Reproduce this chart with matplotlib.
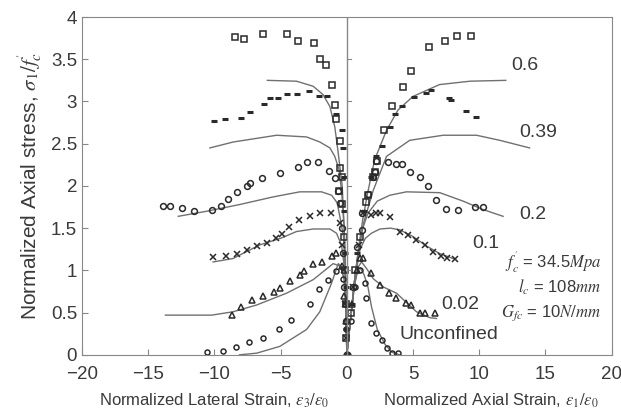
import numpy as np
import matplotlib
matplotlib.use("Agg")
import matplotlib.pyplot as plt

# data: (lateral strain < 0 | axial strain > 0, normalized stress)
sq_lat_x = [-8.45, -7.77, -6.36, -4.53, -3.67, -2.51, -2.04, -1.58, -1.13, -0.91, -0.78, -0.53, -0.48, -0.33, -0.58, -0.33, -0.2, -0.15, -0.1, -0.05]
sq_lat_y = [3.76, 3.74, 3.80, 3.80, 3.72, 3.69, 3.50, 3.43, 3.19, 2.96, 2.79, 2.53, 2.21, 2.11, 1.94, 1.78, 1.4, 1.0, 0.6, 0.2]
sq_ax_x = [0.3, 0.65, 1.0, 1.48, 1.61, 1.99, 2.11, 2.29, 2.82, 3.42, 4.25, 4.83, 6.19, 7.40, 8.33, 9.41]
sq_ax_y = [0.5, 1.0, 1.4, 1.81, 1.89, 2.10, 2.16, 2.30, 2.66, 2.95, 3.17, 3.36, 3.65, 3.72, 3.78, 3.78]

dash_lat_x = [-10.04, -9.21, -8.0, -7.32, -6.24, -5.81, -5.18, -4.55, -3.80, -2.85, -2.09, -1.46, -0.78, -0.40, -0.28, -0.25, -0.2, -0.15, -0.1, -0.05]
dash_lat_y = [2.77, 2.79, 2.81, 2.88, 2.97, 3.04, 3.04, 3.09, 3.09, 3.12, 3.06, 3.06, 2.85, 2.66, 2.45, 2.1, 1.7, 1.2, 0.8, 0.3]
dash_ax_x = [0.4, 0.8, 1.3, 1.8, 2.2, 2.62, 3.25, 3.62, 4.13, 5.06, 5.96, 6.39, 7.72, 7.9, 8.98, 9.79]
dash_ax_y = [0.6, 1.2, 1.7, 2.1, 2.35, 2.47, 2.70, 2.85, 2.95, 3.05, 3.10, 3.13, 3.04, 3.02, 2.89, 2.82]

circ_lat_x = [-13.86, -13.36, -12.43, -11.52, -10.21, -9.53, -8.96, -8.33, -7.57, -7.32, -6.44, -5.06, -3.67, -2.97, -2.17, -1.34, -0.91, -0.65, -0.53, -0.4, -0.3, -0.2, -0.1]
circ_lat_y = [1.76, 1.76, 1.74, 1.70, 1.72, 1.76, 1.85, 1.93, 2.0, 2.04, 2.09, 2.15, 2.22, 2.28, 2.28, 2.18, 2.09, 1.94, 1.80, 1.5, 1.2, 0.8, 0.4]
circ_ax_x = [0.5, 0.78, 1.11, 1.11, 1.61, 1.99, 2.11, 2.24, 3.12, 3.75, 4.2, 4.75, 5.51, 6.14, 6.72, 7.52, 8.4, 9.66, 10.29]
circ_ax_y = [0.8, 1.28, 1.48, 1.68, 1.91, 2.10, 2.17, 2.30, 2.28, 2.26, 2.26, 2.16, 2.10, 2.0, 1.83, 1.73, 1.71, 1.75, 1.75]

x_lat_x = [-10.09, -9.13, -8.33, -7.52, -6.81, -6.01, -5.36, -4.93, -4.35, -3.60, -2.79, -2.04, -1.21, -0.53, -0.4, -0.25, -0.15, -0.05]
x_lat_y = [1.16, 1.17, 1.19, 1.24, 1.29, 1.33, 1.38, 1.43, 1.51, 1.60, 1.64, 1.68, 1.68, 1.56, 1.3, 1.0, 0.6, 0.2]
x_ax_x = [0.5, 0.9, 1.23, 1.86, 2.24, 2.49, 3.25, 4.0, 4.6, 5.2, 5.9, 6.5, 7.1, 7.6, 8.15]
x_ax_y = [0.8, 1.3, 1.68, 1.66, 1.68, 1.68, 1.63, 1.46, 1.42, 1.36, 1.30, 1.22, 1.17, 1.15, 1.14]

tri_lat_x = [-8.70, -8.0, -7.15, -6.31, -5.48, -5.06, -4.30, -3.55, -3.25, -2.54, -1.91, -1.15, -0.78, -0.4, -0.2, -0.1]
tri_lat_y = [0.47, 0.57, 0.65, 0.70, 0.74, 0.79, 0.88, 0.95, 0.99, 1.08, 1.10, 1.17, 1.20, 1.05, 0.7, 0.4]
tri_ax_x = [0.4, 0.8, 1.0, 1.23, 1.86, 2.49, 3.19, 3.75, 4.5, 4.88, 5.51, 5.89, 6.64]
tri_ax_y = [0.6, 1.0, 1.15, 1.15, 0.97, 0.83, 0.73, 0.67, 0.61, 0.59, 0.49, 0.49, 0.49]

unc_lat_x = [-10.59, -9.33, -8.38, -7.37, -6.31, -5.13, -4.18, -2.79, -2.09, -1.41, -0.83, -0.3, -0.15, -0.08]
unc_lat_y = [0.03, 0.05, 0.09, 0.15, 0.20, 0.30, 0.41, 0.60, 0.78, 0.89, 0.99, 0.9, 0.6, 0.3]
unc_ax_x = [0.3, 0.6, 1.0, 1.36, 1.48, 1.86, 2.24, 2.62, 3.0, 3.4, 3.87]
unc_ax_y = [0.4, 0.8, 1.0, 0.85, 0.67, 0.38, 0.26, 0.18, 0.08, 0.02, 0.02]

# model curves (left branch, right branch)
m06_lx = [0, -0.05, -0.1, -0.2, -0.35, -0.65, -0.91, -1.28, -1.79, -2.54, -3.8, -6.0]
m06_ly = [0, 0.5, 1.0, 1.5, 2.0, 2.39, 2.70, 2.94, 3.08, 3.18, 3.24, 3.25]
m06_rx = [0, 0.3, 0.6, 0.86, 1.2, 1.55, 2.1, 3.0, 3.87, 5.0, 7.0, 9.3, 12.0]
m06_ry = [0, 0.45, 0.9, 1.24, 1.6, 1.9, 2.31, 2.66, 2.90, 3.06, 3.20, 3.24, 3.25]

m039_lx = [0, -0.05, -0.1, -0.2, -0.4, -0.6, -0.91, -1.28, -2.04, -3.04, -5.3, -8.58, -10.34]
m039_ly = [0, 0.5, 1.0, 1.5, 1.95, 2.2, 2.35, 2.45, 2.52, 2.58, 2.60, 2.52, 2.45]
m039_rx = [0, 0.3, 0.6, 0.9, 1.3, 2.0, 3.0, 4.75, 7.27, 9.79, 11.55, 13.8]
m039_ry = [0, 0.45, 0.9, 1.25, 1.58, 1.95, 2.35, 2.54, 2.60, 2.60, 2.54, 2.45]

m02_lx = [0, -0.05, -0.12, -0.25, -0.53, -0.73, -1.15, -1.91, -3.55, -5.56, -8.08, -10.59, -12.73]
m02_ly = [0, 0.5, 1.0, 1.4, 1.64, 1.80, 1.89, 1.93, 1.93, 1.87, 1.78, 1.70, 1.64]
m02_rx = [0, 0.3, 0.6, 0.9, 1.2, 1.61, 2.3, 3.25, 4.5, 7.02, 8.78, 10.29, 11.8]
m02_ry = [0, 0.45, 0.9, 1.25, 1.5, 1.68, 1.82, 1.89, 1.93, 1.92, 1.82, 1.72, 1.64]

m01_lx = [0, -0.05, -0.15, -0.4, -0.78, -1.28, -2.54, -3.8, -5.0, -6.6, -8.6, -10.1]
m01_ly = [0, 0.5, 1.0, 1.3, 1.44, 1.49, 1.49, 1.46, 1.38, 1.30, 1.14, 1.10]
m01_rx = [0, 0.3, 0.6, 1.0, 1.4, 1.86, 2.5, 3.3, 4.0, 5.0, 6.0, 7.0, 8.2]
m01_ry = [0, 0.45, 0.9, 1.25, 1.38, 1.44, 1.49, 1.50, 1.48, 1.40, 1.29, 1.20, 1.13]

m002_lx = [0, -0.05, -0.2, -0.5, -1.03, -2.54, -4.55, -6.81, -8.58, -10.21, -13.7]
m002_ly = [0, 0.5, 0.9, 1.05, 1.08, 0.89, 0.73, 0.59, 0.51, 0.47, 0.47]
m002_rx = [0, 0.3, 0.6, 0.9, 1.11, 1.5, 2.0, 2.8, 3.75, 4.5, 5.26, 6.26, 6.77]
m002_ry = [0, 0.45, 0.85, 1.05, 1.10, 1.02, 0.9, 0.8, 0.73, 0.62, 0.51, 0.44, 0.43]

munc_lx = [0, -0.05, -0.2, -0.45, -0.65, -1.15, -2.04, -3.04, -5.06, -6.8, -8.1]
munc_ly = [0, 0.5, 0.9, 1.05, 1.08, 0.85, 0.51, 0.30, 0.10, 0.02, 0.0]
munc_rx = [0, 0.3, 0.55, 0.8, 1.0, 1.3, 1.6, 1.86, 2.3, 2.9, 3.4, 4.0]
munc_ry = [0, 0.45, 0.8, 1.0, 1.03, 0.95, 0.8, 0.57, 0.3, 0.12, 0.03, 0.0]

curve_labels = ["0.6", "0.39", "0.2", "0.1", "0.02", "Unconfined"]
label_x = [12.4, 13.0, 13.0, 9.5, 7.1, 7.7]
label_y = [3.43, 2.63, 1.66, 1.32, 0.59, 0.24]

plt.rcParams['font.family'] = ['Liberation Sans', 'DejaVu Sans']
plt.rcParams['mathtext.fontset'] = 'stix'

txt = '#3a3a3a'
line_c = '#707070'
mk_c = '#2a2a2a'

fig = plt.figure(figsize=(6.21, 4.15), dpi=100)
ax = fig.add_axes([0.132, 0.145, 0.853, 0.814])

models = [(m06_lx, m06_ly, m06_rx, m06_ry), (m039_lx, m039_ly, m039_rx, m039_ry),
          (m02_lx, m02_ly, m02_rx, m02_ry), (m01_lx, m01_ly, m01_rx, m01_ry),
          (m002_lx, m002_ly, m002_rx, m002_ry), (munc_lx, munc_ly, munc_rx, munc_ry)]
for lx, ly, rx, ry in models:
    ax.plot(lx, ly, color=line_c, lw=1.0)
    ax.plot(rx, ry, color=line_c, lw=1.0)

kw = dict(ls='none', color=mk_c, mfc='none', mew=1.1)
ax.plot(sq_lat_x, sq_lat_y, marker='s', ms=4.5, **kw)
ax.plot(sq_ax_x, sq_ax_y, marker='s', ms=4.5, **kw)
ax.plot(dash_lat_x, dash_lat_y, marker='_', ms=5, ls='none', color=mk_c, mew=2.2)
ax.plot(dash_ax_x, dash_ax_y, marker='_', ms=5, ls='none', color=mk_c, mew=2.2)
ax.plot(circ_lat_x, circ_lat_y, marker='o', ms=4.2, **kw)
ax.plot(circ_ax_x, circ_ax_y, marker='o', ms=4.2, **kw)
ax.plot(x_lat_x, x_lat_y, marker='x', ms=5, **kw)
ax.plot(x_ax_x, x_ax_y, marker='x', ms=5, **kw)
ax.plot(tri_lat_x, tri_lat_y, marker='^', ms=4.5, **kw)
ax.plot(tri_ax_x, tri_ax_y, marker='^', ms=4.5, **kw)
ax.plot(unc_lat_x, unc_lat_y, marker='o', ms=3.6, **kw)
ax.plot(unc_ax_x, unc_ax_y, marker='o', ms=3.6, **kw)
ax.plot([0], [0], marker='o', ms=5, color=mk_c, ls='none')

# vertical line at zero strain with ticks pointing right
ax.axvline(0, color='#888888', lw=1.0)
for yt in np.arange(0.5, 4.0, 0.5):
    ax.plot([0, 0.35], [yt, yt], color='#888888', lw=0.8)

for (t, lx_, ly_) in zip(curve_labels, label_x, label_y):
    ax.text(lx_, ly_, t, fontsize=14, color=txt, va='center',
            ha='center' if t == "Unconfined" else 'left')

ax.text(19.2, 1.10, r"$f_c^{'}$ = 34.5$Mpa$", fontsize=12, color=txt, ha='right', va='center')
ax.text(19.2, 0.80, r"$l_c$ = 108$mm$", fontsize=12, color=txt, ha='right', va='center')
ax.text(19.2, 0.49, r"$G_{fc}$ = 10$N/mm$", fontsize=12, color=txt, ha='right', va='center')

ax.set_xlim(-20, 20)
ax.set_ylim(0, 4)
ax.set_xticks(np.arange(-20, 21, 5))
ax.set_yticks(np.arange(0, 4.01, 0.5))
ax.set_yticklabels(['0', '0.5', '1', '1.5', '2', '2.5', '3', '3.5', '4'])
ax.tick_params(direction='in', length=4, colors='#888888', labelcolor=txt, labelsize=13.5)
ax.tick_params(axis='x', pad=8)
for s in ax.spines.values():
    s.set_color('#888888')

ax.set_ylabel(r"Normalized Axial stress, $\sigma_1/f_c^{'}$", fontsize=15, color=txt, labelpad=5)
fig.text(0.345, 0.022, r"Normalized Lateral Strain, $\varepsilon_3/\varepsilon_0$", fontsize=12, color=txt, ha='center')
fig.text(0.79, 0.022, r"Normalized Axial Strain, $\varepsilon_1/\varepsilon_0$", fontsize=12, color=txt, ha='center')

fig.savefig('out.png', dpi=100)
